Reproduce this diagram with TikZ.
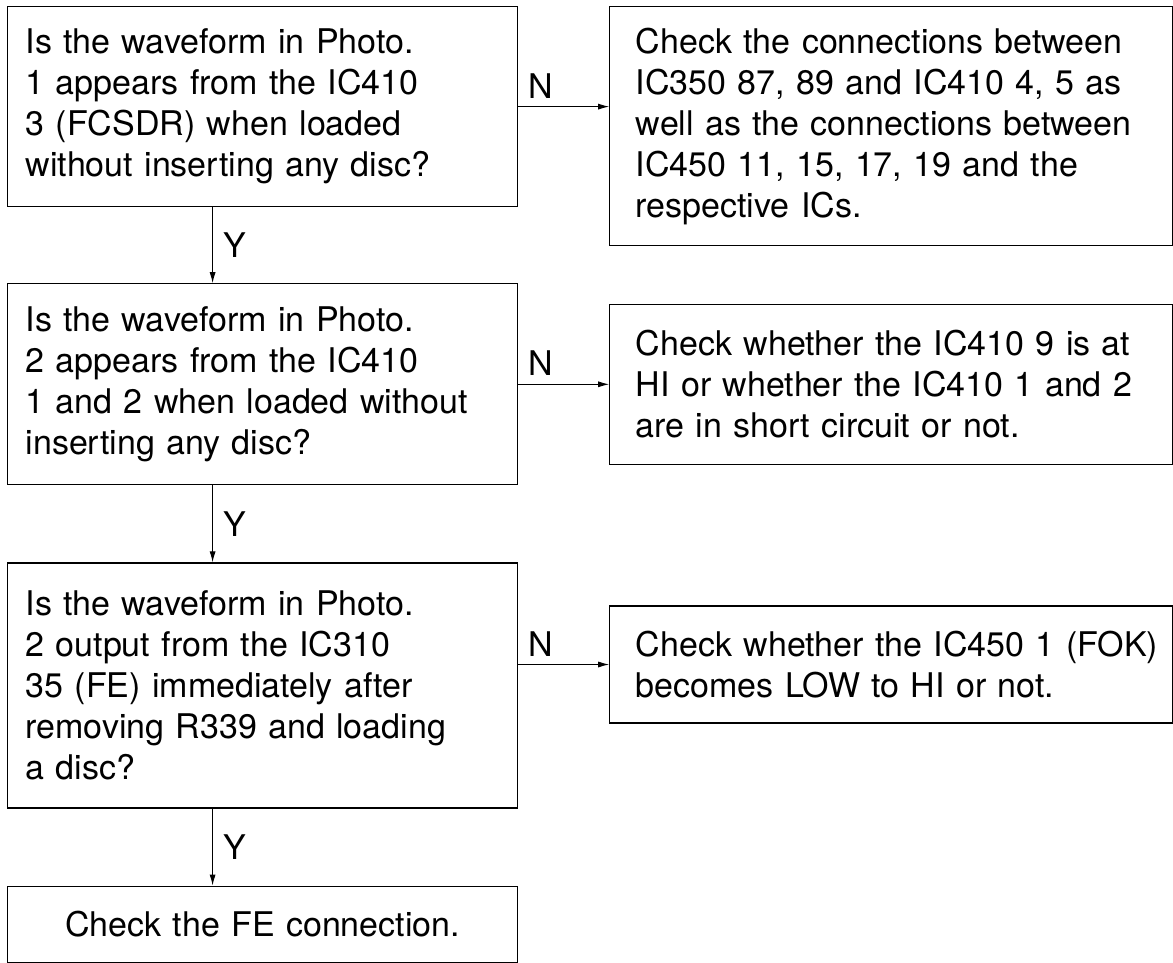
\documentclass[tikz,border=0pt]{standalone}
\usepackage{fontspec}
\setmainfont{TeX Gyre Heros}
\usetikzlibrary{arrows.meta, positioning}
\tikzset{
    base/.style = {rectangle, draw=black, line width=1.2pt, font=\fontsize{34}{41}\selectfont, inner ysep=0pt},
    ask/.style = {base, text width=474pt, inner xsep=18pt, align=left},
    todo/.style = {base, text width=511pt, inner xsep=26pt, align=left},
    finish/.style = {base, text width=474pt, inner xsep=18pt, align=center},
    arrow/.style = {line width=1pt, -{Latex[length=11pt, width=6pt]}},
    answer/.style = {font=\fontsize{34}{41}\selectfont, inner sep=2pt}
}
\begin{document}
\begin{tikzpicture}
        \useasboundingbox (0,0) rectangle (1173pt,-962pt);

        % Question boxes
        \node (box1) [ask, minimum height=200pt, anchor=north west] at (7pt,-6pt)
            {Is the waveform in Photo.\\ 1 appears from the IC410\\ 3 (FCSDR) when loaded\\ without inserting any disc?};
        \node (box2) [ask, minimum height=201pt, below=76pt of box1]
            {Is the waveform in Photo.\\ 2 appears from the IC410\\ 1 and 2 when loaded without\\ inserting any disc?};
        \node (box3) [ask, minimum height=245pt, below=77pt of box2]
            {Is the waveform in Photo.\\ 2 output from the IC310\\ 35 (FE) immediately after\\ removing R339 and loading\\ a disc?};
        \node (box4) [finish, minimum height=76pt, below=77pt of box3] {Check the FE connection.};

        % Check boxes
        \node (r1) [todo, minimum height=239pt, right=91pt of box1.north east, anchor=north west]
            {\mbox{Check the connections between}\\ \mbox{IC350 87, 89 and IC410 4, 5 as}\\ \mbox{well as the connections between}\\ IC450 11, 15, 17, 19 and the\\ respective ICs.};
        \node (r2) [todo, minimum height=160pt, right=91pt of box2]
            {\mbox{Check whether the IC410 9 is at}\\ \mbox{HI or whether the IC410 1 and 2}\\ are in short circuit or not.};
        \node (r3) [todo, minimum height=117pt, right=91pt of box3, yshift=21pt]
            {\mbox{Check whether the IC450 1 (FOK)}\\ becomes LOW to HI or not.};

        % N arrows
        \draw [arrow] (box1.east) -- (box1.east -| r1.west) node [answer, pos=0.25, above=6pt] {N};
        \draw [arrow] (box2.east) -- (r2.west) node [answer, pos=0.25, above=6pt] {N};
        \draw [arrow] (r3.west -| box3.east) -- (r3.west) node [answer, pos=0.25, above=6pt] {N};

        % Y arrows
        \draw [arrow] ([xshift=-50pt]box1.south) -- ([xshift=-50pt]box2.north) node [answer, midway, right=8pt] {Y};
        \draw [arrow] ([xshift=-50pt]box2.south) -- ([xshift=-50pt]box3.north) node [answer, midway, right=8pt] {Y};
        \draw [arrow] ([xshift=-50pt]box3.south) -- ([xshift=-50pt]box4.north) node [answer, midway, right=8pt] {Y};

\end{tikzpicture}
\end{document}
